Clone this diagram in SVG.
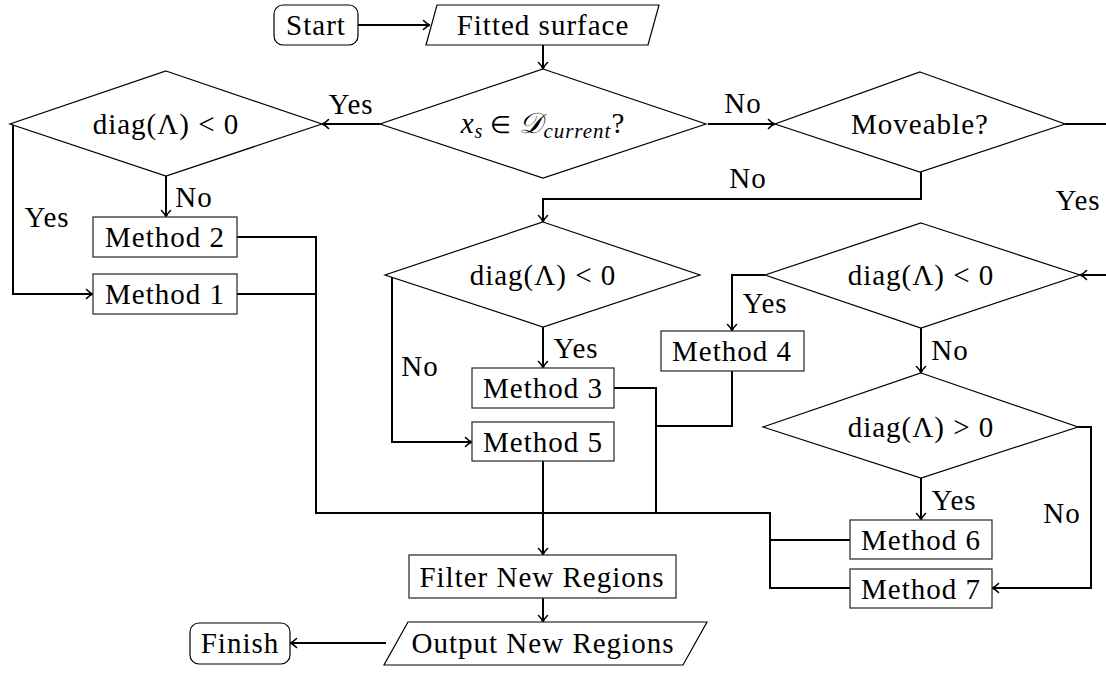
<svg xmlns="http://www.w3.org/2000/svg" width="1106" height="677" viewBox="0 0 1106 677">
<style>
.n{fill:#fff;stroke:#000;stroke-width:1.2}
.b{fill:#fff;stroke:#333;stroke-width:1.3}
.t{font-family:"Liberation Serif","Times New Roman",serif;font-size:29px;letter-spacing:1px;fill:#000;text-anchor:middle}
.c{fill:none;stroke:#000;stroke-width:2}
.a{marker-end:url(#arr)}
</style>
<defs>
<marker id="arr" viewBox="-8 -6 10 12" refX="0" refY="0" markerWidth="10" markerHeight="12" markerUnits="userSpaceOnUse" orient="auto">
<path d="M-6.5,-4.5 C-4,-1.8 -1.6,-0.4 0,0 C-1.6,0.4 -4,1.8 -6.5,4.5" fill="none" stroke="#000" stroke-width="1.6" stroke-linecap="round"/>
</marker>
</defs>
<g id="connectors">
<path class="c a" d="M358,25 H430"/>
<path class="c a" d="M543,45 V69"/>
<path class="c a" d="M380,124 H322"/>
<path class="c a" d="M708,124 H775"/>
<path class="c" d="M1065,124 H1130 V275"/>
<path class="c a" d="M1130,275 H1080"/>
<path class="c a" d="M921,172 V199 H543 V222"/>
<path class="c a" d="M13,124 V294 H93"/>
<path class="c a" d="M166,176 V217"/>
<path class="c" d="M237,237 H316 V513 H770 V588 H850"/>
<path class="c" d="M237,294 H316"/>
<path class="c" d="M770,540 H850"/>
<path class="c" d="M614,388 H656 V513"/>
<path class="c" d="M732,371 V426 H656"/>
<path class="c a" d="M392,275 V442 H472"/>
<path class="c a" d="M543,327 V368"/>
<path class="c a" d="M765,275 H732 V331"/>
<path class="c a" d="M921,328 V373"/>
<path class="c a" d="M921,478 V520"/>
<path class="c a" d="M1078,427 H1091 V588 H992"/>
<path class="c a" d="M543,461 V555"/>
<path class="c a" d="M543,598 V622"/>
<path class="c a" d="M386,643 H290"/>
<text class="t" x="351" y="114">Yes</text>
<text class="t" x="743" y="113">No</text>
<text class="t" x="748" y="188">No</text>
<text class="t" x="1078" y="210">Yes</text>
<text class="t" x="194" y="207">No</text>
<text class="t" x="47" y="227">Yes</text>
<text class="t" x="576" y="358">Yes</text>
<text class="t" x="420" y="376">No</text>
<text class="t" x="765" y="313">Yes</text>
<text class="t" x="950" y="360">No</text>
<text class="t" x="954" y="510">Yes</text>
<text class="t" x="1062" y="523">No</text>
</g>
<g id="start"><rect class="n" x="274" y="5" width="84" height="40" rx="9"/><text class="t" x="316" y="35">Start</text></g>
<g id="fitted"><polygon class="n" points="437,5 659,5 648,45 426,45"/><text class="t" x="543" y="35">Fitted surface</text></g>
<g id="d_current"><polygon class="n" points="543,69 706,124 543,178 380,124"/>
<text class="t" x="543" y="133"><tspan font-style="italic">x</tspan><tspan font-style="italic" font-size="20" dy="5">s</tspan><tspan dy="-5" font-size="24"> ∈ </tspan><tspan font-style="italic">𝒟</tspan><tspan font-style="italic" font-size="21" dy="5">current</tspan><tspan dy="-5">?</tspan></text></g>
<g id="d_left"><polygon class="n" points="166,71 322,124 166,176 10,124"/><text class="t" x="166" y="134">diag(Λ) &lt; 0</text></g>
<g id="moveable"><polygon class="n" points="920,72 1065,124 920,172 775,124"/><text class="t" x="920" y="134">Moveable?</text></g>
<g id="d_mid"><polygon class="n" points="543,222 700,275 543,327 385,275"/><text class="t" x="543" y="285">diag(Λ) &lt; 0</text></g>
<g id="d_right"><polygon class="n" points="921,223 1080,275 921,328 765,275"/><text class="t" x="921" y="285">diag(Λ) &lt; 0</text></g>
<g id="d_pos"><polygon class="n" points="921,373 1078,427 921,478 763,427"/><text class="t" x="921" y="437">diag(Λ) &gt; 0</text></g>
<g id="m2"><rect class="b" x="93" y="217" width="144" height="40"/><text class="t" x="165" y="247">Method 2</text></g>
<g id="m1"><rect class="b" x="93" y="274" width="144" height="40"/><text class="t" x="165" y="304">Method 1</text></g>
<g id="m3"><rect class="b" x="472" y="368" width="142" height="40"/><text class="t" x="543" y="398">Method 3</text></g>
<g id="m5"><rect class="b" x="472" y="422" width="142" height="39"/><text class="t" x="543" y="452">Method 5</text></g>
<g id="m4"><rect class="b" x="661" y="331" width="143" height="40"/><text class="t" x="732" y="361">Method 4</text></g>
<g id="m6"><rect class="b" x="850" y="520" width="142" height="39"/><text class="t" x="921" y="550">Method 6</text></g>
<g id="m7"><rect class="b" x="850" y="569" width="142" height="39"/><text class="t" x="921" y="599">Method 7</text></g>
<g id="filter"><rect class="b" x="409" y="555" width="267" height="43"/><text class="t" x="542" y="587">Filter New Regions</text></g>
<g id="output"><polygon class="n" points="408,622 707,622 683,665 384,665"/><text class="t" x="543" y="653">Output New Regions</text></g>
<g id="finish"><rect class="n" x="190" y="623" width="100" height="41" rx="9"/><text class="t" x="240" y="653">Finish</text></g>
</svg>
